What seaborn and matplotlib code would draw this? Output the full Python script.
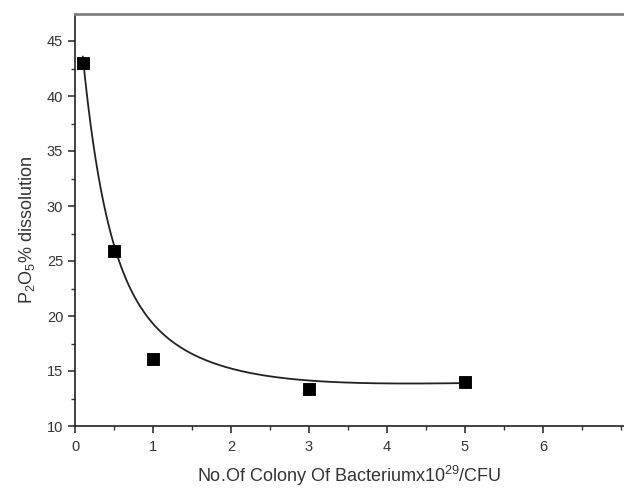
import numpy as np
import pandas as pd
import matplotlib
matplotlib.use("Agg")
import matplotlib.pyplot as plt
from matplotlib.ticker import MultipleLocator
import seaborn as sns

# measured data points
colony = [0.1, 0.5, 1.0, 3.0, 5.0]
dissolution = [43.0, 25.9, 16.1, 13.4, 14.0]

# fitted curve (knots)
curve_x = [0.1, 0.22, 0.5, 0.65, 1.17, 2.0, 2.96, 4.15, 5.0]
curve_y = [43.0, 37.5, 25.9, 23.3, 18.1, 15.5, 14.1, 13.7, 14.0]

xticks = [0, 1, 2, 3, 4, 5, 6]
yticks = [10, 15, 20, 25, 30, 35, 40, 45]

sns.set_style("white")
plt.rcParams['font.family'] = ['Liberation Sans', 'DejaVu Sans']
plt.rcParams['mathtext.fontset'] = 'custom'
plt.rcParams['mathtext.rm'] = 'Liberation Sans'
plt.rcParams['mathtext.it'] = 'Liberation Sans:italic'

fig = plt.figure(figsize=(6.24, 4.88), dpi=100)
ax = fig.add_axes([75/624, 62/488, 549/624, 412/488])

# smooth curve through the read knots (least-squares with decay basis)
cx = np.array(curve_x); cy = np.array(curve_y)
def basis(x):
    return np.column_stack([np.ones_like(x), x, np.exp(-x/0.3), np.exp(-x/1.0)])
coef, *_ = np.linalg.lstsq(basis(cx), cy, rcond=None)
xs = np.linspace(min(curve_x), max(curve_x), 300)
fit_df = pd.DataFrame({"x": xs, "y": basis(xs) @ coef})
sns.lineplot(data=fit_df, x="x", y="y", ax=ax, color="#222222", linewidth=1.3)

df = pd.DataFrame({"x": colony, "y": dissolution})
sns.scatterplot(data=df, x="x", y="y", ax=ax, marker="s", s=64, color="black",
                edgecolor="black", zorder=5)

ax.set_xlim(0, 549/78)
ax.set_ylim(10, 10 + 412/11)
ax.set_xticks(xticks)
ax.set_yticks(yticks)
ax.xaxis.set_minor_locator(MultipleLocator(0.5))
ax.yaxis.set_minor_locator(MultipleLocator(2.5))
ax.tick_params(axis='both', which='major', direction='out', length=5, width=1.2,
               color='#333333', labelsize=10.5, labelcolor='#333333', bottom=True, left=True)
ax.tick_params(axis='both', which='minor', direction='out', length=3, width=1.0,
               color='#333333', bottom=True, left=True)
ax.tick_params(axis='x', which='major', pad=5)

ax.spines['right'].set_visible(False)
ax.spines['top'].set_color('#808080')
ax.spines['top'].set_linewidth(2.0)
ax.spines['left'].set_color('#222222')
ax.spines['left'].set_linewidth(1.2)
ax.spines['bottom'].set_color('#222222')
ax.spines['bottom'].set_linewidth(1.2)

ax.set_xlabel(r"No.Of Colony Of Bacteriumx10$^{\mathregular{29}}$/CFU",
              fontsize=13, color='#333333')
ax.set_ylabel(r"P$_{\mathregular{2}}$O$_{\mathregular{5}}$% dissolution",
              fontsize=13, color='#333333')
ax.xaxis.set_label_coords(0.5, -0.092)
ax.yaxis.set_label_coords(-0.069, 0.476)

fig.savefig("out.png", dpi=100)
